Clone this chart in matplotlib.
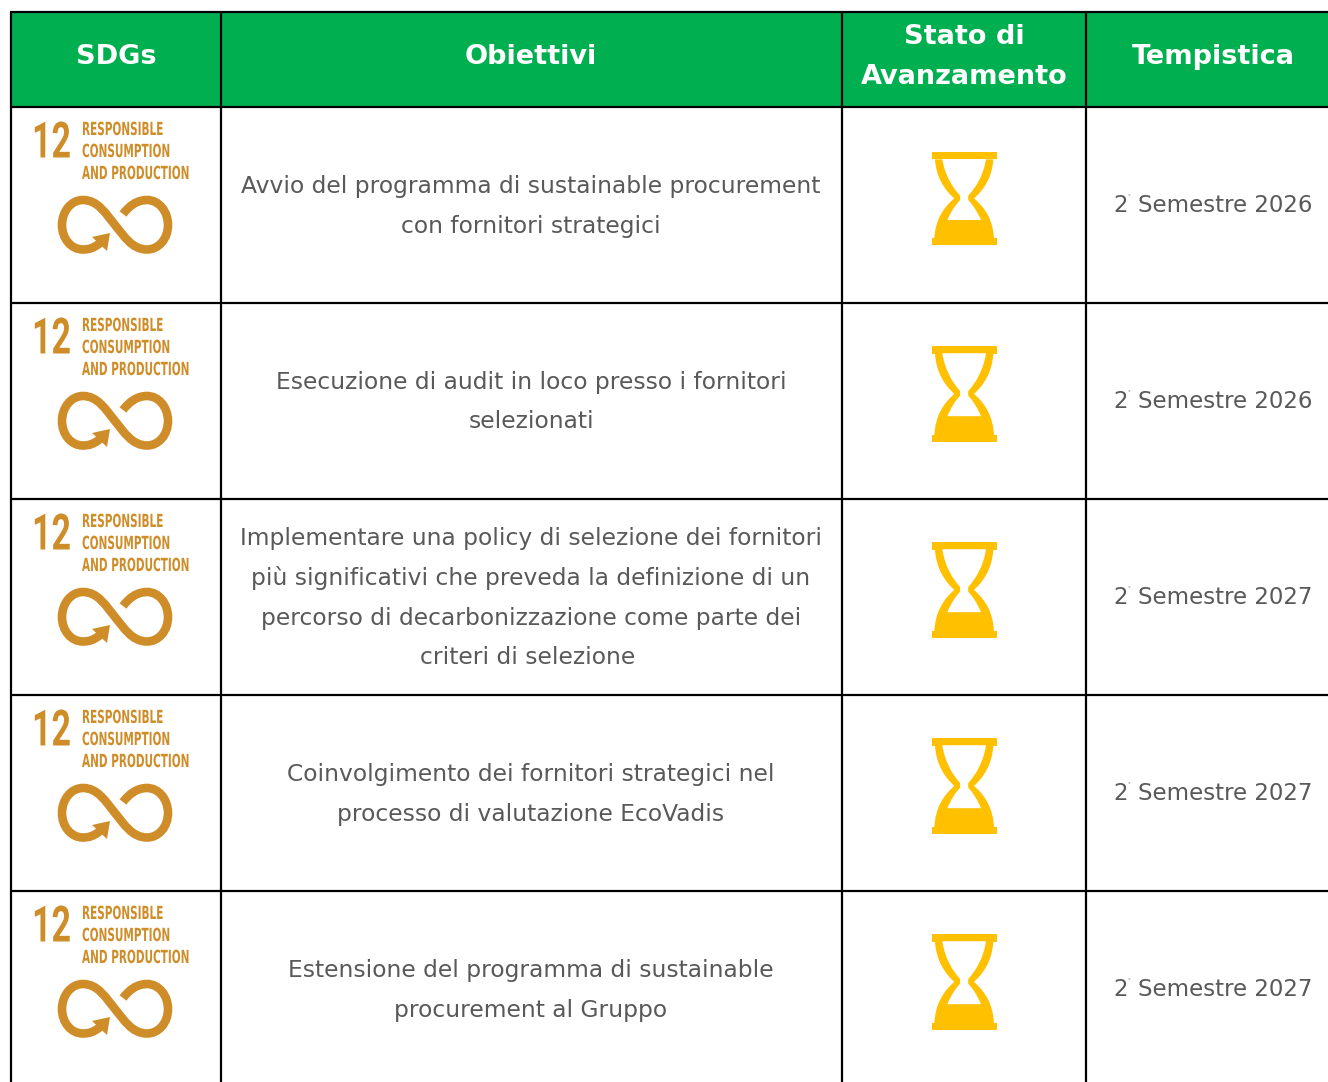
"""SDG targets table, drawn in pixel coordinates."""
import matplotlib
matplotlib.use("Agg")
import matplotlib.pyplot as plt
from matplotlib.patches import PathPatch, Polygon, Rectangle
from matplotlib.path import Path
from matplotlib.patheffects import AbstractPathEffect
from matplotlib.transforms import Affine2D

GREEN = "#00B050"
GOLD = "#CF8D2A"
AMBER = "#FFC000"
GREY = "#595959"

headers = ["SDGs", "Obiettivi", "Stato di\nAvanzamento", "Tempistica"]
objectives = [
    ["Avvio del programma di sustainable procurement", "con fornitori strategici"],
    ["Esecuzione di audit in loco presso i fornitori", "selezionati"],
    ["Implementare una policy di selezione dei fornitori",
     "più significativi che preveda la definizione di un",
     "percorso di decarbonizzazione come parte dei",
     "criteri di selezione"],
    ["Coinvolgimento dei fornitori strategici nel", "processo di valutazione EcoVadis"],
    ["Estensione del programma di sustainable", "procurement al Gruppo"],
]
timing = ["Semestre 2026", "Semestre 2026", "Semestre 2027", "Semestre 2027", "Semestre 2027"]
sdg_number = "12"
sdg_lines = ["RESPONSIBLE", "CONSUMPTION", "AND PRODUCTION"]

col_x = [11, 221, 842, 1086, 1340]
row_y = [107, 303, 499, 695, 891, 1087]
header_top = 12

W, H = 1328, 1082
fig = plt.figure(figsize=(W / 100, H / 100), dpi=100, facecolor="white")
ax = fig.add_axes([0, 0, 1, 1])
ax.set_xlim(0, W)
ax.set_ylim(H, 0)
ax.axis("off")


class Squeeze(AbstractPathEffect):
    """Narrow a text horizontally around x0 (no condensed font is installed)."""

    def __init__(self, sx, x0):
        super().__init__()
        self.sx = sx
        self.x0 = x0

    def draw_path(self, renderer, gc, tpath, affine, rgbFace=None):
        squeeze = Affine2D().translate(-self.x0, 0).scale(self.sx, 1).translate(self.x0, 0)
        renderer.draw_path(gc, tpath, affine + squeeze, rgbFace)


def sdg_icon(dy):
    ax.text(71, 144 + dy, sdg_number, fontsize=36, fontweight="bold", color=GOLD, family="Roboto",
            ha="right", va="center", path_effects=[Squeeze(0.68, 71)])
    for k, line in enumerate(sdg_lines):
        ax.text(82, 130 + 22 * k + dy, line, fontsize=13, fontweight="bold", color=GOLD,
                ha="left", va="center", path_effects=[Squeeze(0.58, 82)])
    verts = [(100, 243), (94, 248), (89, 249.5), (83, 249.5),
             (71, 249.5), (62, 238.5), (62, 225),
             (62, 211.5), (71, 200), (83, 200),
             (98, 200), (106, 214), (115, 225),
             (124, 236), (132, 249.5), (147, 249.5),
             (159, 249.5), (168, 238.5), (168, 225),
             (168, 211.5), (159, 200), (147, 200),
             (137, 200), (129, 206), (123, 214)]
    verts = [(x, y + dy) for x, y in verts]
    codes = [Path.MOVETO] + [Path.CURVE4] * 24
    ax.add_patch(PathPatch(Path(verts, codes), fill=False, edgecolor=GOLD, lw=6.2, capstyle="butt"))
    ax.add_patch(Polygon([(92, 237 + dy), (110, 233 + dy), (107, 251 + dy)], closed=True,
                         facecolor=GOLD, edgecolor="none"))


def hourglass(top, height):
    s = height / 93.0

    def pt(zx, zy):
        return (910 + zx / 3, top + (140 + zy / 3 - 152) * s)

    def mirror(zx, zy):
        return pt(325 - zx, zy)

    ax.add_patch(Rectangle(pt(65, 36), 65, 7.3 * s, facecolor=AMBER, edgecolor="none"))
    ax.add_patch(Rectangle(pt(65, 295), 65, 7 * s, facecolor=AMBER, edgecolor="none"))
    outer = [pt(75, 58), pt(78, 110), pt(103, 150), pt(133, 175),
             pt(98, 205), pt(76, 240), pt(73, 296),
             mirror(73, 296),
             mirror(76, 240), mirror(98, 205), mirror(133, 175),
             mirror(103, 150), mirror(78, 110), mirror(75, 58), pt(75, 58)]
    codes = [Path.MOVETO] + [Path.CURVE4] * 6 + [Path.LINETO] + [Path.CURVE4] * 6 + [Path.CLOSEPOLY]
    ax.add_patch(PathPatch(Path(outer, codes), facecolor=AMBER, edgecolor="none"))
    inner = [pt(97, 57), pt(104, 105), pt(129, 145), pt(149, 165),
             pt(153, 175), pt(149, 182),
             pt(136, 195), pt(123, 215), pt(112, 240),
             mirror(112, 240),
             mirror(123, 215), mirror(136, 195), mirror(149, 182),
             mirror(153, 175), mirror(149, 165),
             mirror(129, 145), mirror(104, 105), mirror(97, 57), pt(97, 57)]
    codes = ([Path.MOVETO] + [Path.CURVE4] * 3 + [Path.CURVE3] * 2 + [Path.CURVE4] * 3
             + [Path.LINETO] + [Path.CURVE4] * 3 + [Path.CURVE3] * 2 + [Path.CURVE4] * 3
             + [Path.CLOSEPOLY])
    ax.add_patch(PathPatch(Path(inner, codes), facecolor="white", edgecolor="none"))


ax.add_patch(Rectangle((col_x[0], header_top), W, row_y[0] - header_top,
                       facecolor=GREEN, edgecolor="none"))

header_fs = 19.5
ax.text(116, 57, headers[0], fontsize=header_fs, fontweight="bold", color="white", ha="center", va="center")
ax.text(531, 57, headers[1], fontsize=header_fs, fontweight="bold", color="white", ha="center", va="center")
for k, line in enumerate(headers[2].split("\n")):
    ax.text(964, 37 + 40 * k, line, fontsize=header_fs, fontweight="bold", color="white",
            ha="center", va="center")
ax.text(1213, 57, headers[3], fontsize=header_fs, fontweight="bold", color="white", ha="center", va="center")

hour_tops = [152, 346, 542, 738, 934]
hour_heights = [93, 96, 96, 96, 96]
for i, lines in enumerate(objectives):
    dy = 196 * i
    sdg_icon(dy)
    hourglass(hour_tops[i], hour_heights[i])
    mid = (row_y[i] + row_y[i + 1]) / 2
    n = len(lines)
    for k, line in enumerate(lines):
        ax.text(531 if n < 4 or k < 3 else 528, mid + 1 + (k - (n - 1) / 2) * 40, line, fontsize=16.8, color=GREY,
                ha="center", va="center")
    ax.text(1113, 206 + dy, "2", fontsize=16.5, color=GREY, ha="left", va="center")
    ax.text(1127, 197 + dy, "°", fontsize=4, color=GREY, ha="left", va="center")
    ax.text(1138, 206 + dy, timing[i], fontsize=16.5, color=GREY, ha="left", va="center")

for y in [header_top] + row_y[:-1]:
    ax.plot([col_x[0] - 1, W], [y, y], color="black", lw=1.6, solid_capstyle="butt")
for x in col_x[:-1]:
    ax.plot([x, x], [header_top, H], color="black", lw=1.6, solid_capstyle="butt")

fig.savefig("out.png", dpi=100, facecolor="white")
